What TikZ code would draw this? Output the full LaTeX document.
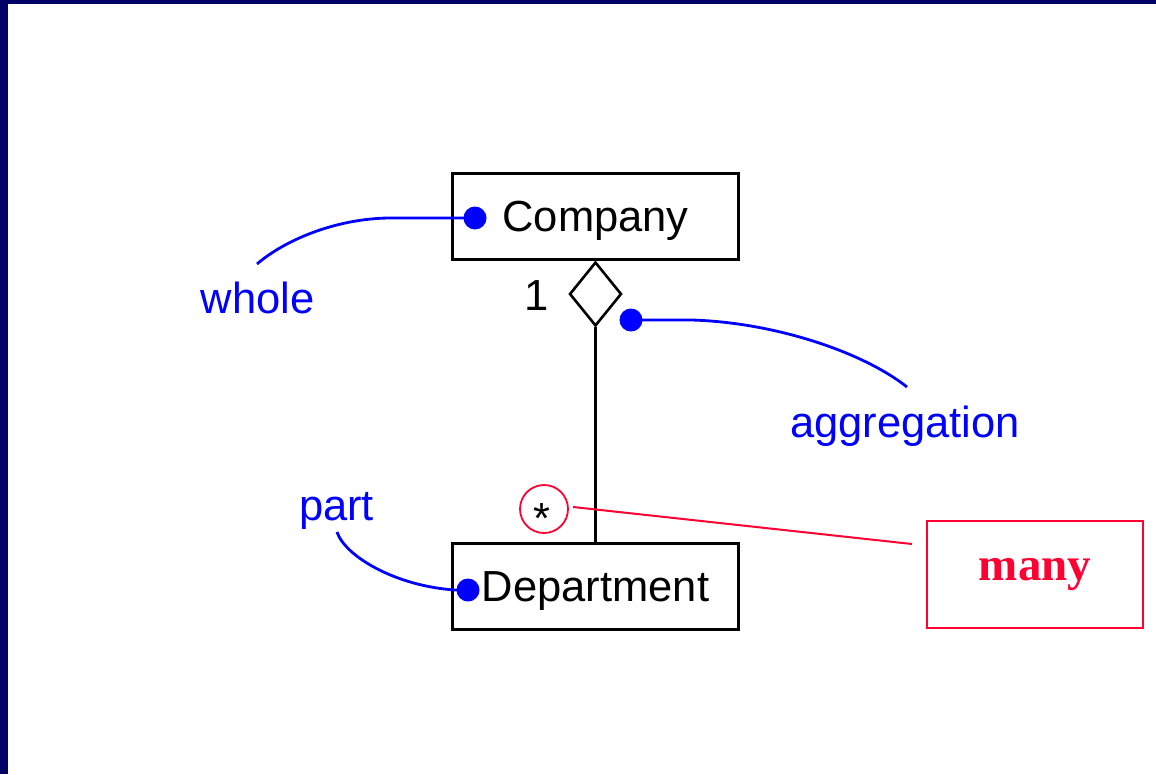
\documentclass[tikz,border=0pt]{standalone}
\usepackage{fontspec}
\setmainfont{Liberation Sans}
\newfontfamily\manyfont{Liberation Serif}
\usetikzlibrary{shapes.geometric}
\definecolor{navy}{HTML}{000066}
\definecolor{noteblue}{HTML}{0000FF}
\definecolor{notered}{HTML}{FF0033}
\begin{document}
\begin{tikzpicture}[x=1pt,y=-1pt,
  labelfont/.style={font=\fontsize{43.5}{50}\selectfont},
  classbox/.style={draw=black, line width=3.2pt, minimum width=286pt,
    minimum height=86pt, inner sep=0pt, labelfont, text depth=0pt},
  bluetext/.style={text=noteblue, labelfont, inner sep=0pt, anchor=base},
  dotnode/.style={circle, fill=noteblue, minimum size=23pt, inner sep=0pt},
  noteline/.style={draw=noteblue, line width=2.8pt},
  redline/.style={draw=notered, line width=2pt},
  ]
\useasboundingbox (0,0) rectangle (1156,774);
\fill[white] (0,0) rectangle (1156,774);
% frame strips
\fill[navy] (0,0) rectangle (1156,4);
\fill[navy] (0,0) rectangle (8,774);

% classes and the aggregation
\node[classbox] (company) at (595.5,216.5) {Company};
\node[classbox] (department) at (595.5,586.5) {Department};
\node[draw, diamond, line width=2.6pt, minimum width=52pt, minimum height=64pt,
  inner sep=0pt] (agg) at (595.5,294) {};
\draw[line width=3pt] (agg.south) -- (agg.south |- department.north);

% multiplicities
\node[labelfont, inner sep=0pt, anchor=base] (one) at (537,310) {1};
\node[labelfont, inner sep=0pt, anchor=base] (star) at (542,533) {*};
\node[circle, draw=notered, line width=1.8pt, minimum size=48pt, inner sep=0pt]
  (ring) at (544,509) {};

% callout
\node[draw=notered, line width=2.2pt, minimum width=216pt, minimum height=107pt,
  text=notered, font=\manyfont\bfseries\fontsize{47}{50}\selectfont]
  (many) at (1035,574.5) {many};
\coordinate (ringTail) at (573,507);
\coordinate (manyTail) at (912,544);
\draw[redline] (ringTail) -- (manyTail);

% role annotations
\node[dotnode] (cdot) at (475,218) {};
\node[dotnode] (adot) at (631,320) {};
\node[dotnode] (ddot) at (468,590) {};
\node[bluetext] (whole) at (257.5,313) {whole};
\node[bluetext] (aggregation) at (905,437) {aggregation};
\node[bluetext] (part) at (336.5,520) {part};
\coordinate (wholeEnd) at (257,264);
\coordinate (aggEnd) at (907,387);
\coordinate (partEnd) at (337,532);

\draw[noteline] (cdot.center) -- (388,218)
  .. controls (335,219) and (285,240) .. (wholeEnd);
\draw[noteline] (adot.center) -- (691,320)
  .. controls (770,322) and (860,350) .. (aggEnd);
\draw[noteline] (partEnd) .. controls (345,556) and (395,586) .. (455,590)
  -- (ddot.center);
\end{tikzpicture}
\end{document}
